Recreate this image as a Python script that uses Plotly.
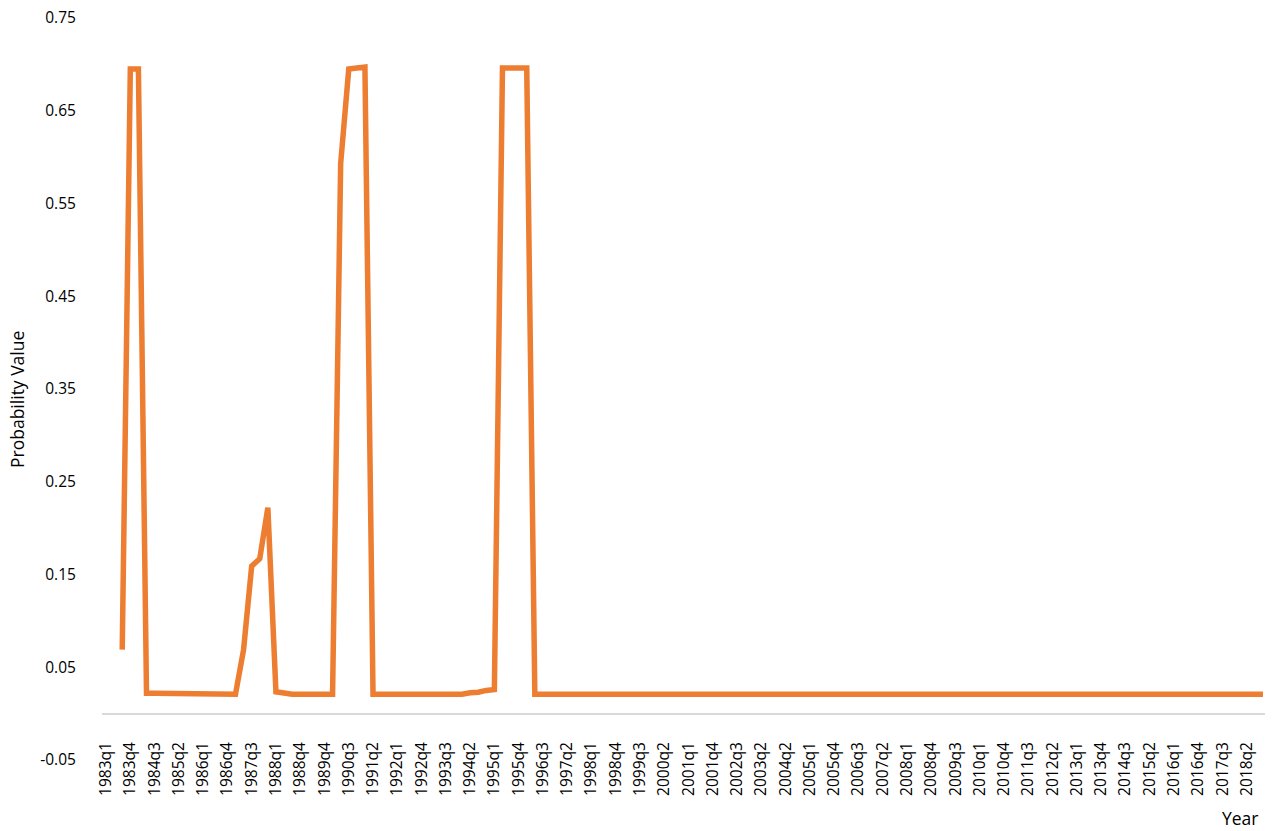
import plotly.graph_objects as go

# Probability values per quarter (1983q1 ... 2018q4), 144 points; first two missing
prob_1983 = [None, None, 0.069, 0.695]
prob_1984 = [0.695, 0.022, 0.022, 0.022]
prob_1985 = [0.022, 0.022, 0.022, 0.022]
prob_1986 = [0.022, 0.022, 0.022, 0.022]
prob_1987 = [0.021, 0.069, 0.159, 0.167]
prob_1988 = [0.222, 0.0235, 0.022, 0.021]
prob_1989 = [0.021, 0.021, 0.021, 0.021]
prob_1990 = [0.021, 0.593, 0.695, 0.696]
prob_1991 = [0.697, 0.021, 0.021, 0.021]
prob_1992 = [0.021, 0.021, 0.021, 0.021]
prob_1993 = [0.021, 0.021, 0.021, 0.021]
prob_1994 = [0.021, 0.0225, 0.023, 0.025]
prob_1995 = [0.026, 0.696, 0.696, 0.696]
prob_1996 = [0.696, 0.021, 0.021, 0.021]
prob_1997 = [0.021, 0.021, 0.021, 0.021]
prob_1998 = [0.021, 0.021, 0.021, 0.021]
prob_1999 = [0.021, 0.021, 0.021, 0.021]
prob_2000 = [0.021, 0.021, 0.021, 0.021]
prob_2001 = [0.021, 0.021, 0.021, 0.021]
prob_2002 = [0.021, 0.021, 0.021, 0.021]
prob_2003 = [0.021, 0.021, 0.021, 0.021]
prob_2004 = [0.021, 0.021, 0.021, 0.021]
prob_2005 = [0.021, 0.021, 0.021, 0.021]
prob_2006 = [0.021, 0.021, 0.021, 0.021]
prob_2007 = [0.021, 0.021, 0.021, 0.021]
prob_2008 = [0.021, 0.021, 0.021, 0.021]
prob_2009 = [0.021, 0.021, 0.021, 0.021]
prob_2010 = [0.021, 0.021, 0.021, 0.021]
prob_2011 = [0.021, 0.021, 0.021, 0.021]
prob_2012 = [0.021, 0.021, 0.021, 0.021]
prob_2013 = [0.021, 0.021, 0.021, 0.021]
prob_2014 = [0.021, 0.021, 0.021, 0.021]
prob_2015 = [0.021, 0.021, 0.021, 0.021]
prob_2016 = [0.021, 0.021, 0.021, 0.021]
prob_2017 = [0.021, 0.021, 0.021, 0.021]
prob_2018 = [0.021, 0.021, 0.021, 0.021]

values = (prob_1983 + prob_1984 + prob_1985 + prob_1986 + prob_1987 + prob_1988
          + prob_1989 + prob_1990 + prob_1991 + prob_1992 + prob_1993 + prob_1994
          + prob_1995 + prob_1996 + prob_1997 + prob_1998 + prob_1999 + prob_2000
          + prob_2001 + prob_2002 + prob_2003 + prob_2004 + prob_2005 + prob_2006
          + prob_2007 + prob_2008 + prob_2009 + prob_2010 + prob_2011 + prob_2012
          + prob_2013 + prob_2014 + prob_2015 + prob_2016 + prob_2017 + prob_2018)

# Tick labels shown on the category axis (every third category)
tick_labels = ["1983q1", "1983q4", "1984q3", "1985q2", "1986q1", "1986q4", "1987q3",
               "1988q1", "1988q4", "1989q4", "1990q3", "1991q2", "1992q1", "1992q4",
               "1993q3", "1994q2", "1995q1", "1995q4", "1996q3", "1997q2", "1998q1",
               "1998q4", "1999q3", "2000q2", "2001q1", "2001q4", "2002q3", "2003q2",
               "2004q2", "2005q1", "2005q4", "2006q3", "2007q2", "2008q1", "2008q4",
               "2009q3", "2010q1", "2010q4", "2011q3", "2012q2", "2013q1", "2013q4",
               "2014q3", "2015q2", "2016q1", "2016q4", "2017q3", "2018q2"]
y_ticks = [-0.05, 0.05, 0.15, 0.25, 0.35, 0.45, 0.55, 0.65, 0.75]

x_index = list(range(len(values)))
tick_positions = x_index[::3][:len(tick_labels)]

FONT = "Open Sans, Segoe UI, sans-serif"

fig = go.Figure()
fig.add_trace(go.Scatter(
    x=x_index, y=values, mode="lines",
    line=dict(color="#ED7D31", width=5.5),
    connectgaps=False, hoverinfo="y", showlegend=False,
))

fig.update_layout(
    width=1265, height=823,
    margin=dict(l=94, r=6, t=10, b=71, autoexpand=False),
    paper_bgcolor="white", plot_bgcolor="white",
    font=dict(family=FONT, size=15.5, color="#000000"),
    xaxis=dict(
        range=[-0.5, len(values) - 0.5], automargin=False,
        tickmode="array", tickvals=tick_positions, ticktext=tick_labels,
        tickangle=-90, showgrid=False, showline=False, zeroline=False,
        ticks="", anchor="free", position=0.0296, ticklabeloverflow="allow",
        tickfont=dict(family=FONT, size=15.5, color="#000000"),
    ),
    yaxis=dict(
        range=[-0.05, 0.75], automargin=False, tickmode="array", tickvals=y_ticks,
        ticktext=[f"{v:.2f}" for v in y_ticks],
        showgrid=False, showline=False, ticklabeloverflow="allow",
        zeroline=True, zerolinecolor="#d9d9d9", zerolinewidth=2,
        ticks="outside", ticklen=22, tickcolor="rgba(0,0,0,0)",
        tickfont=dict(family=FONT, size=15.5, color="#000000"),
    ),
    annotations=[
        dict(text="Probability Value", xref="paper", yref="paper",
             x=-0.073, y=0.4865, textangle=-90, showarrow=False,
             xanchor="center", yanchor="middle",
             font=dict(family=FONT, size=17.5, color="#000000")),
        dict(text="Year", xref="paper", yref="paper",
             x=0.977, y=-0.078, showarrow=False,
             xanchor="center", yanchor="middle",
             font=dict(family=FONT, size=17.5, color="#000000")),
    ],
)

fig.write_html("out.html")
